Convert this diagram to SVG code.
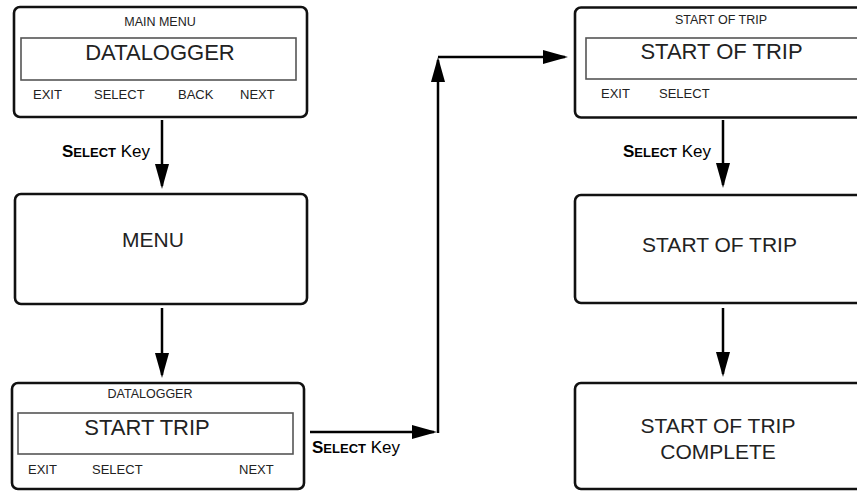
<svg xmlns="http://www.w3.org/2000/svg" width="857" height="491" viewBox="0 0 857 491">
<style>
.box{fill:#fff;stroke:#111;stroke-width:2.6}
.inner{fill:none;stroke:#555;stroke-width:1.6}
.t{font-family:"Liberation Sans",Arial,sans-serif;fill:#222}
.hdr{font-size:12.5px}
.big{font-size:22px}
.mid{font-size:21px}
.key{font-size:13px}
.c{text-anchor:middle}
.conn{fill:none;stroke:#000;stroke-width:2.5}
.lbl{font-family:"Liberation Sans",Arial,sans-serif;fill:#000;font-size:17px}
.sc{font-weight:bold}
.sm{font-size:13px}
</style>
<defs>
<marker id="ah" markerUnits="userSpaceOnUse" markerWidth="26" markerHeight="16" viewBox="0 0 26 16" refX="22" refY="8" orient="auto">
<path d="M0,1 L25,8 L0,15 z" fill="#000"/>
</marker>
</defs>
<rect width="857" height="491" fill="#fff"/>

<g id="main-menu">
<rect class="box" x="14" y="7" width="293" height="110" rx="6"/>
<rect class="inner" x="21" y="38" width="275" height="42"/>
<text class="t hdr c" x="160" y="26">MAIN MENU</text>
<text class="t big c" x="160" y="60">DATALOGGER</text>
<text class="t key" x="33" y="99">EXIT</text>
<text class="t key" x="94" y="99">SELECT</text>
<text class="t key" x="178" y="99">BACK</text>
<text class="t key" x="240" y="99">NEXT</text>
</g>

<g id="menu">
<rect class="box" x="15" y="194" width="292" height="110" rx="6"/>
<text class="t mid c" x="153" y="247">MENU</text>
</g>

<g id="datalogger">
<rect class="box" x="12" y="383" width="292" height="106" rx="6"/>
<rect class="inner" x="18" y="413" width="275" height="41"/>
<text class="t hdr c" x="150" y="398">DATALOGGER</text>
<text class="t big c" x="147" y="435">START TRIP</text>
<text class="t key" x="28" y="474">EXIT</text>
<text class="t key" x="92" y="474">SELECT</text>
<text class="t key" x="239" y="474">NEXT</text>
</g>

<g id="start-of-trip-menu">
<rect class="box" x="575" y="7.5" width="293" height="110" rx="6"/>
<rect class="inner" x="586" y="38" width="282" height="41"/>
<text class="t hdr c" x="721" y="24">START OF TRIP</text>
<text class="t big c" x="721.5" y="59">START OF TRIP</text>
<text class="t key" x="601" y="98">EXIT</text>
<text class="t key" x="659" y="98">SELECT</text>
</g>

<g id="start-of-trip">
<rect class="box" x="575" y="195" width="293" height="108" rx="6"/>
<text class="t mid c" x="719.5" y="252">START OF TRIP</text>
</g>

<g id="start-of-trip-complete">
<rect class="box" x="575" y="383" width="293" height="106" rx="6"/>
<text class="t mid c" x="718" y="433">START OF TRIP</text>
<text class="t mid c" x="718" y="459">COMPLETE</text>
</g>

<g id="connectors">
<line class="conn" x1="162" y1="120" x2="162" y2="186" marker-end="url(#ah)"/>
<line class="conn" x1="162" y1="308" x2="162" y2="375" marker-end="url(#ah)"/>
<line class="conn" x1="310" y1="432" x2="434" y2="432" marker-end="url(#ah)"/>
<line class="conn" x1="438" y1="433" x2="438" y2="60" marker-end="url(#ah)"/>
<line class="conn" x1="438" y1="57" x2="565" y2="57" marker-end="url(#ah)"/>
<line class="conn" x1="723" y1="120" x2="723" y2="185" marker-end="url(#ah)"/>
<line class="conn" x1="723" y1="308" x2="723" y2="374" marker-end="url(#ah)"/>
<text class="lbl" x="62" y="157"><tspan class="sc">S</tspan><tspan class="sc sm">ELECT</tspan> Key</text>
<text class="lbl" x="312" y="453"><tspan class="sc">S</tspan><tspan class="sc sm">ELECT</tspan> Key</text>
<text class="lbl" x="623" y="157"><tspan class="sc">S</tspan><tspan class="sc sm">ELECT</tspan> Key</text>
</g>
</svg>
